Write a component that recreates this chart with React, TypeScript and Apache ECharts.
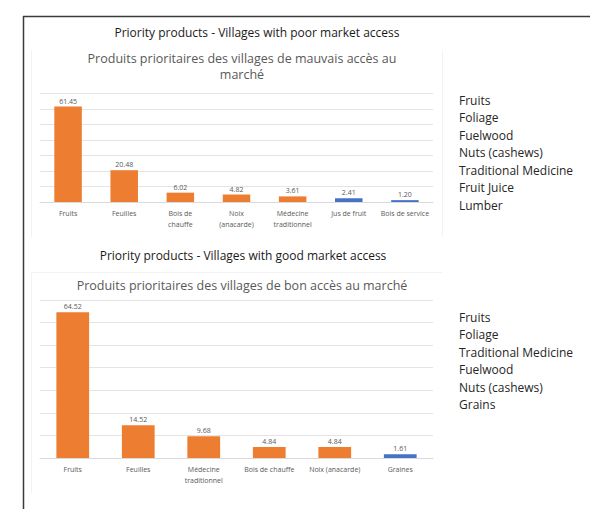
import React, { useEffect, useRef } from "react";
import * as echarts from "echarts";

const title1 = "Priority products - Villages with poor market access";
const subtitle1 = "Produits prioritaires des villages de mauvais accès au\nmarché";
const categories1 = ["Fruits", "Feuilles", "Bois de\nchauffe", "Noix\n(anacarde)", "Médecine\ntraditionnel", "Jus de fruit", "Bois de service"];
const values1 = [61.45, 20.48, 6.02, 4.82, 3.61, 2.41, 1.2];
const colors1 = ["#ED7D31", "#ED7D31", "#ED7D31", "#ED7D31", "#ED7D31", "#4472C4", "#4472C4"];
const legend1 = ["Fruits", "Foliage", "Fuelwood", "Nuts (cashews)", "Traditional Medicine", "Fruit Juice", "Lumber"];

const title2 = "Priority products - Villages with good market access";
const subtitle2 = "Produits prioritaires des villages de bon accès au marché";
const categories2 = ["Fruits", "Feuilles", "Médecine\ntraditionnel", "Bois de chauffe", "Noix (anacarde)", "Graines"];
const values2 = [64.52, 14.52, 9.68, 4.84, 4.84, 1.61];
const colors2 = ["#ED7D31", "#ED7D31", "#ED7D31", "#ED7D31", "#ED7D31", "#4472C4"];
const legend2 = ["Fruits", "Foliage", "Traditional Medicine", "Fuelwood", "Nuts (cashews)", "Grains"];

const yMax = 70;
const yInterval = 10;

const FONT = "'Open Sans', 'Noto Sans', sans-serif";

export default function App() {
  const ref = useRef<HTMLDivElement>(null);
  useEffect(() => {
    if (!ref.current) return;
    const chart = echarts.init(ref.current, null, { renderer: "svg" });
    const xAxisCommon = {
      type: "category" as const,
      axisTick: { show: false },
      axisLine: { lineStyle: { color: "#d9d9d9", width: 1 } },
      axisLabel: {
        interval: 0,
        fontSize: 7,
        color: "#595959",
        fontFamily: FONT,
        lineHeight: 11,
        margin: 6,
      },
    };
    const yAxisCommon = {
      type: "value" as const,
      min: 0,
      max: yMax,
      interval: yInterval,
      axisLabel: { show: false },
      axisLine: { show: false },
      axisTick: { show: false },
      splitLine: { lineStyle: { color: "#e4e4e4", width: 1 } },
    };
    const labelCommon = {
      show: true,
      position: "top" as const,
      distance: 2,
      fontSize: 7,
      color: "#595959",
      fontFamily: FONT,
      formatter: (p: any) => Number(p.value).toFixed(2),
    };
    const legendTexts = (items: string[], top: number) =>
      items.map((t, i) => ({
        type: "text",
        left: 459,
        top: top + i * 17.5,
        style: { text: t, fontSize: 12, fill: "#262626", fontFamily: FONT },
      }));

    chart.setOption({
      animation: false,
      backgroundColor: "#ffffff",
      title: [
        {
          text: title1,
          left: 252,
          top: 21,
          textAlign: "center",
          textStyle: { fontSize: 12, fontWeight: "normal", color: "#1a1a1a", fontFamily: FONT },
        },
        {
          text: subtitle1,
          left: 237,
          top: 45,
          textAlign: "center",
          textStyle: { fontSize: 12.5, fontWeight: "normal", color: "#595959", fontFamily: FONT, lineHeight: 16 },
        },
        {
          text: title2,
          left: 238,
          top: 244,
          textAlign: "center",
          textStyle: { fontSize: 12, fontWeight: "normal", color: "#1a1a1a", fontFamily: FONT },
        },
        {
          text: subtitle2,
          left: 237,
          top: 274,
          textAlign: "center",
          textStyle: { fontSize: 12.5, fontWeight: "normal", color: "#595959", fontFamily: FONT },
        },
      ],
      grid: [
        { left: 40, top: 93.3, width: 393, height: 108.7 },
        { left: 40, top: 300, width: 393, height: 158 },
      ],
      xAxis: [
        { ...xAxisCommon, gridIndex: 0, data: categories1 },
        { ...xAxisCommon, gridIndex: 1, data: categories2 },
      ],
      yAxis: [
        { ...yAxisCommon, gridIndex: 0 },
        { ...yAxisCommon, gridIndex: 1 },
      ],
      series: [
        {
          type: "bar",
          xAxisIndex: 0,
          yAxisIndex: 0,
          barWidth: "49%",
          data: values1.map((v, i) => ({ value: v, itemStyle: { color: colors1[i] } })),
          label: labelCommon,
        },
        {
          type: "bar",
          xAxisIndex: 1,
          yAxisIndex: 1,
          barWidth: "50%",
          data: values2.map((v, i) => ({ value: v, itemStyle: { color: colors2[i] } })),
          label: labelCommon,
        },
      ],
      graphic: [
        {
          type: "line",
          shape: { x1: 23, y1: 16.5, x2: 590, y2: 16.5 },
          style: { stroke: "#3a3a3a", lineWidth: 1.5 },
        },
        {
          type: "line",
          shape: { x1: 23.5, y1: 16, x2: 23.5, y2: 509 },
          style: { stroke: "#3a3a3a", lineWidth: 1.5 },
        },
        {
          type: "line",
          shape: { x1: 31.5, y1: 50, x2: 31.5, y2: 237 },
          style: { stroke: "#f3f3f3", lineWidth: 1 },
        },
        {
          type: "line",
          shape: { x1: 442.5, y1: 50, x2: 442.5, y2: 237 },
          style: { stroke: "#f3f3f3", lineWidth: 1 },
        },
        {
          type: "polyline",
          shape: { points: [[31.5, 493], [31.5, 272.5], [442.5, 272.5]] },
          style: { stroke: "#f3f3f3", fill: "none", lineWidth: 1 },
        },
        ...legendTexts(legend1, 94),
        ...legendTexts(legend2, 311),
      ],
    });
    return () => chart.dispose();
  }, []);
  return (
    <div
      ref={ref}
      style={{ position: "fixed", left: 0, top: 0, width: 590, height: 509 }}
    />
  );
}
